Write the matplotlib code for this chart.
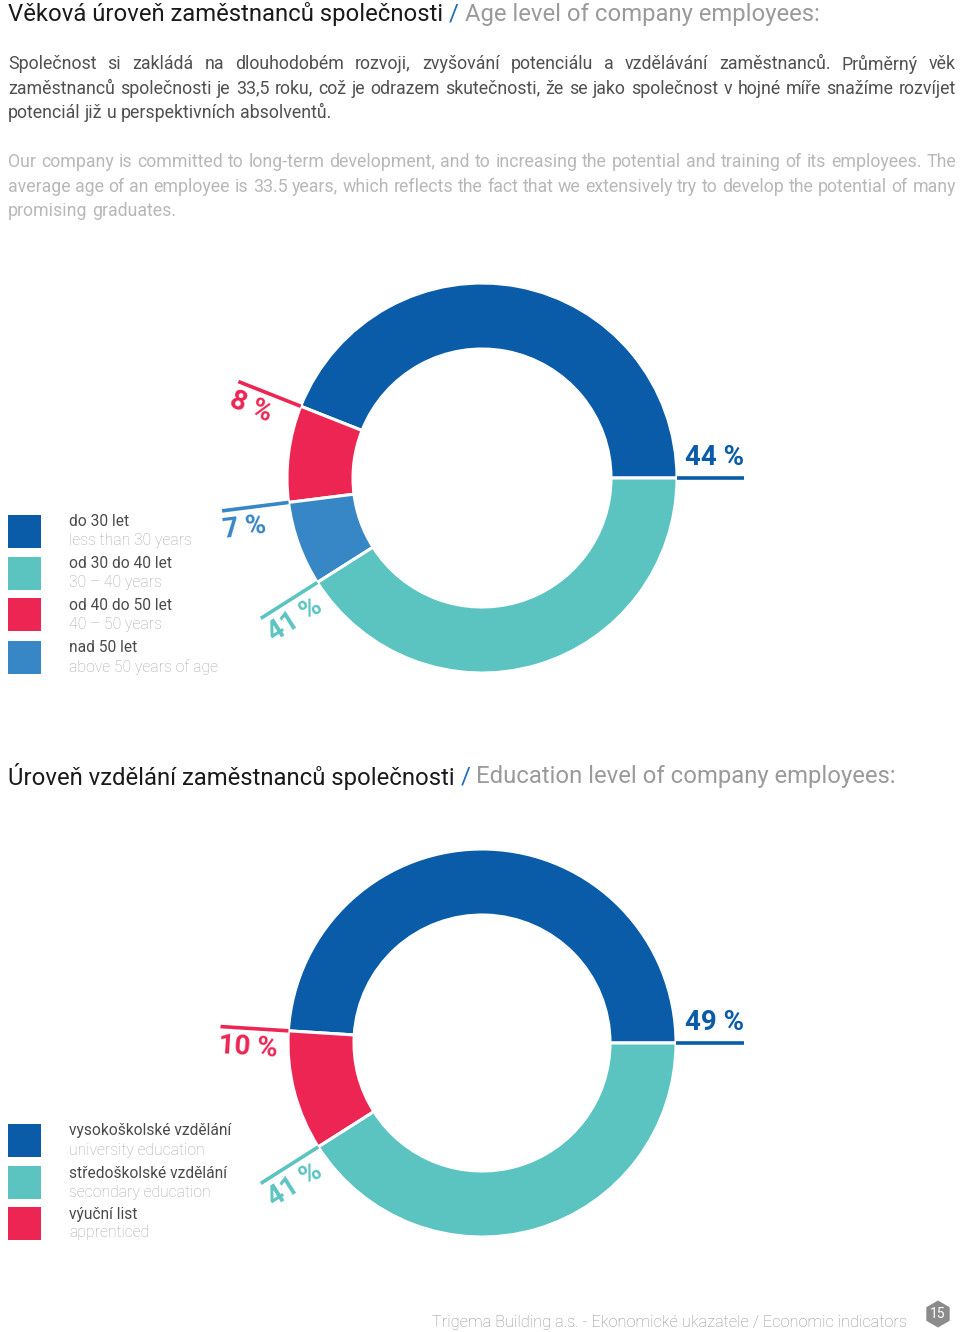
import numpy as np
import matplotlib
matplotlib.use("Agg")
import matplotlib.pyplot as plt
from matplotlib.patches import Rectangle, RegularPolygon

plt.rcParams['font.family'] = ['Roboto', 'DejaVu Sans']

W, H = 960, 1332

# colours
DARK_BLUE = "#0a5ca9"
TEAL = "#5bc4c1"
RED = "#ec2553"
MID_BLUE = "#3786c6"
SLASH = "#1e6db5"

# age chart (legend order)
age_cz = ["do 30 let", "od 30 do 40 let", "od 40 do 50 let", "nad 50 let"]
age_en = ["less than 30 years", "30 – 40 years", "40 – 50 years", "above 50 years of age"]
age_pct = [44, 41, 8, 7]
age_colors = [DARK_BLUE, TEAL, RED, MID_BLUE]
age_pie_order = [0, 2, 3, 1]   # counter-clockwise from 3 o'clock

# education chart (legend order)
edu_cz = ["vysokoškolské vzdělání", "středoškolské vzdělání", "výuční list"]
edu_en = ["university education", "secondary education", "apprenticed"]
edu_pct = [49, 41, 10]
edu_colors = [DARK_BLUE, TEAL, RED]
edu_pie_order = [0, 2, 1]

title1 = ["Věková úroveň zaměstnanců společnosti", "/", "Age level of company employees:"]
title2 = ["Úroveň vzdělání zaměstnanců společnosti", "/", "Education level of company employees:"]

para_cz = [
    "Společnost si zakládá na dlouhodobém rozvoji, zvyšování potenciálu a vzdělávání zaměstnanců. Průměrný věk",
    "zaměstnanců společnosti je 33,5 roku, což je odrazem skutečnosti, že se jako společnost v hojné míře snažíme rozvíjet",
    "potenciál již u perspektivních absolventů.",
]
para_en = [
    "Our company is committed to long-term development, and to increasing the potential and training of its employees. The",
    "average age of an employee is 33.5 years, which reflects the fact that we extensively try to develop the potential of many",
    "promising graduates.",
]
footer = "Trigema Building a.s. - Ekonomické ukazatele / Economic indicators"
page_no = "15"

PARA_FONT = ['Liberation Sans Narrow', 'Roboto', 'DejaVu Sans']

fig = plt.figure(figsize=(W / 100, H / 100), dpi=100)
fig.patch.set_facecolor("white")
ax = fig.add_axes([0, 0, 1, 1])
ax.set_xlim(0, W)
ax.set_ylim(H, 0)
ax.axis("off")
renderer = fig.canvas.get_renderer()


def text_w(t):
    return t.get_window_extent(renderer).width


def space_width(fs, weight="normal", family=None):
    a = ax.text(0, 0, "a a", fontsize=fs, fontweight=weight, family=family)
    b = ax.text(0, 0, "aa", fontsize=fs, fontweight=weight, family=family)
    w = text_w(a) - text_w(b)
    a.remove()
    b.remove()
    return w


def draw_title(x, y, parts, fs=17.2):
    colors = ["#1a1a1a", SLASH, "#9a9a9a"]
    sp = space_width(fs)
    for part, c in zip(parts, colors):
        t = ax.text(x, y, part, fontsize=fs, color=c, va="center", ha="left")
        x += text_w(t) + sp


def draw_paragraph(lines, y0, step, color, fs, weight, x0=8, x1=956):
    # shrink font if a line does not fit
    widest = 0
    for line in lines:
        t = ax.text(0, 0, line, fontsize=fs, fontweight=weight, family=PARA_FONT)
        widest = max(widest, text_w(t))
        t.remove()
    if widest > (x1 - x0):
        fs = fs * (x1 - x0) / widest * 0.995
    sp = space_width(fs, weight, PARA_FONT)
    for i, line in enumerate(lines):
        y = y0 + i * step
        words = line.split(" ")
        texts = [ax.text(0, y, w, fontsize=fs, color=color, va="center",
                         ha="left", fontweight=weight, family=PARA_FONT) for w in words]
        widths = [text_w(t) for t in texts]
        last = i == len(lines) - 1
        if not last and len(words) > 1:
            gap = (x1 - x0 - sum(widths)) / (len(words) - 1)
        else:
            gap = sp
        x = x0
        for t, w in zip(texts, widths):
            t.set_x(x)
            x += w + gap


def draw_legend(tops, cz, en, colors):
    for top, a, b, c in zip(tops, cz, en, colors):
        ax.add_patch(Rectangle((8, top), 33, 33, facecolor=c, edgecolor="none"))
        ax.text(69, top + 7, a, fontsize=11.2, color="#4a4a4a", va="center", ha="left")
        ax.text(69, top + 26, b, fontsize=11.3, color="#a8a8a8", va="center", ha="left",
                fontweight="light")


def draw_donut(cx, cy, pct, colors, order, r_out=195, r_in=129, r_line=262):
    R = 290
    a = fig.add_axes([(cx - R) / W, 1 - (cy + R) / H, 2 * R / W, 2 * R / H])
    vals = [pct[i] for i in order]
    cols = [colors[i] for i in order]
    a.pie(vals, colors=cols, startangle=0, counterclock=True, radius=r_out,
          wedgeprops=dict(width=r_out - r_in, edgecolor="white", linewidth=2.2))
    a.set_xlim(-R, R)
    a.set_ylim(-R, R)
    a.set_axis_off()
    total = float(sum(vals))
    start = 0.0
    for v, c in zip(vals, cols):
        th = np.deg2rad(start)
        ux, uy = np.cos(th), np.sin(th)
        px, py = -np.sin(th), np.cos(th)
        a.plot([r_out * ux, r_line * ux], [r_out * uy, r_line * uy], color=c,
               lw=2.6, solid_capstyle="butt")
        label = "%d %%" % v
        if ux > 0:
            tx, ty = r_line * ux + 7 * px, r_line * uy + 7 * py
            a.text(tx, ty, label, color=c, fontsize=20, fontweight="bold",
                   ha="right", va="bottom", rotation=start, rotation_mode="anchor")
        else:
            tx, ty = (r_line + 1) * ux + 6 * px, (r_line + 1) * uy + 6 * py
            a.text(tx, ty, label, color=c, fontsize=20, fontweight="bold",
                   ha="left", va="top", rotation=start - 180, rotation_mode="anchor")
        start += v / total * 360


# texts
draw_title(8, 14, title1)
draw_paragraph(para_cz, 64, 24.5, "#505050", 12.8, "normal")
draw_paragraph(para_en, 162, 24.5, "#b8b8b8", 12.8, "normal")
draw_title(8, 777, title2)

# legends
draw_legend([515, 557, 598, 641], age_cz, age_en, age_colors)
draw_legend([1124, 1166, 1207], edu_cz, edu_en, edu_colors)

# footer
ax.text(907, 1322, footer, fontsize=11.8, color="#8f8f8f", va="center", ha="right",
        fontweight="light")
ax.add_patch(RegularPolygon((938, 1314), 6, radius=13.5, facecolor="#8c8c8c",
                            edgecolor="none"))
ax.text(938, 1314, page_no, fontsize=10, color="white", va="center", ha="center")

# donuts
draw_donut(482, 478, age_pct, age_colors, age_pie_order)
draw_donut(482, 1043, edu_pct, edu_colors, edu_pie_order, r_out=194, r_in=128)

fig.savefig("out.png", dpi=100, facecolor="white")
